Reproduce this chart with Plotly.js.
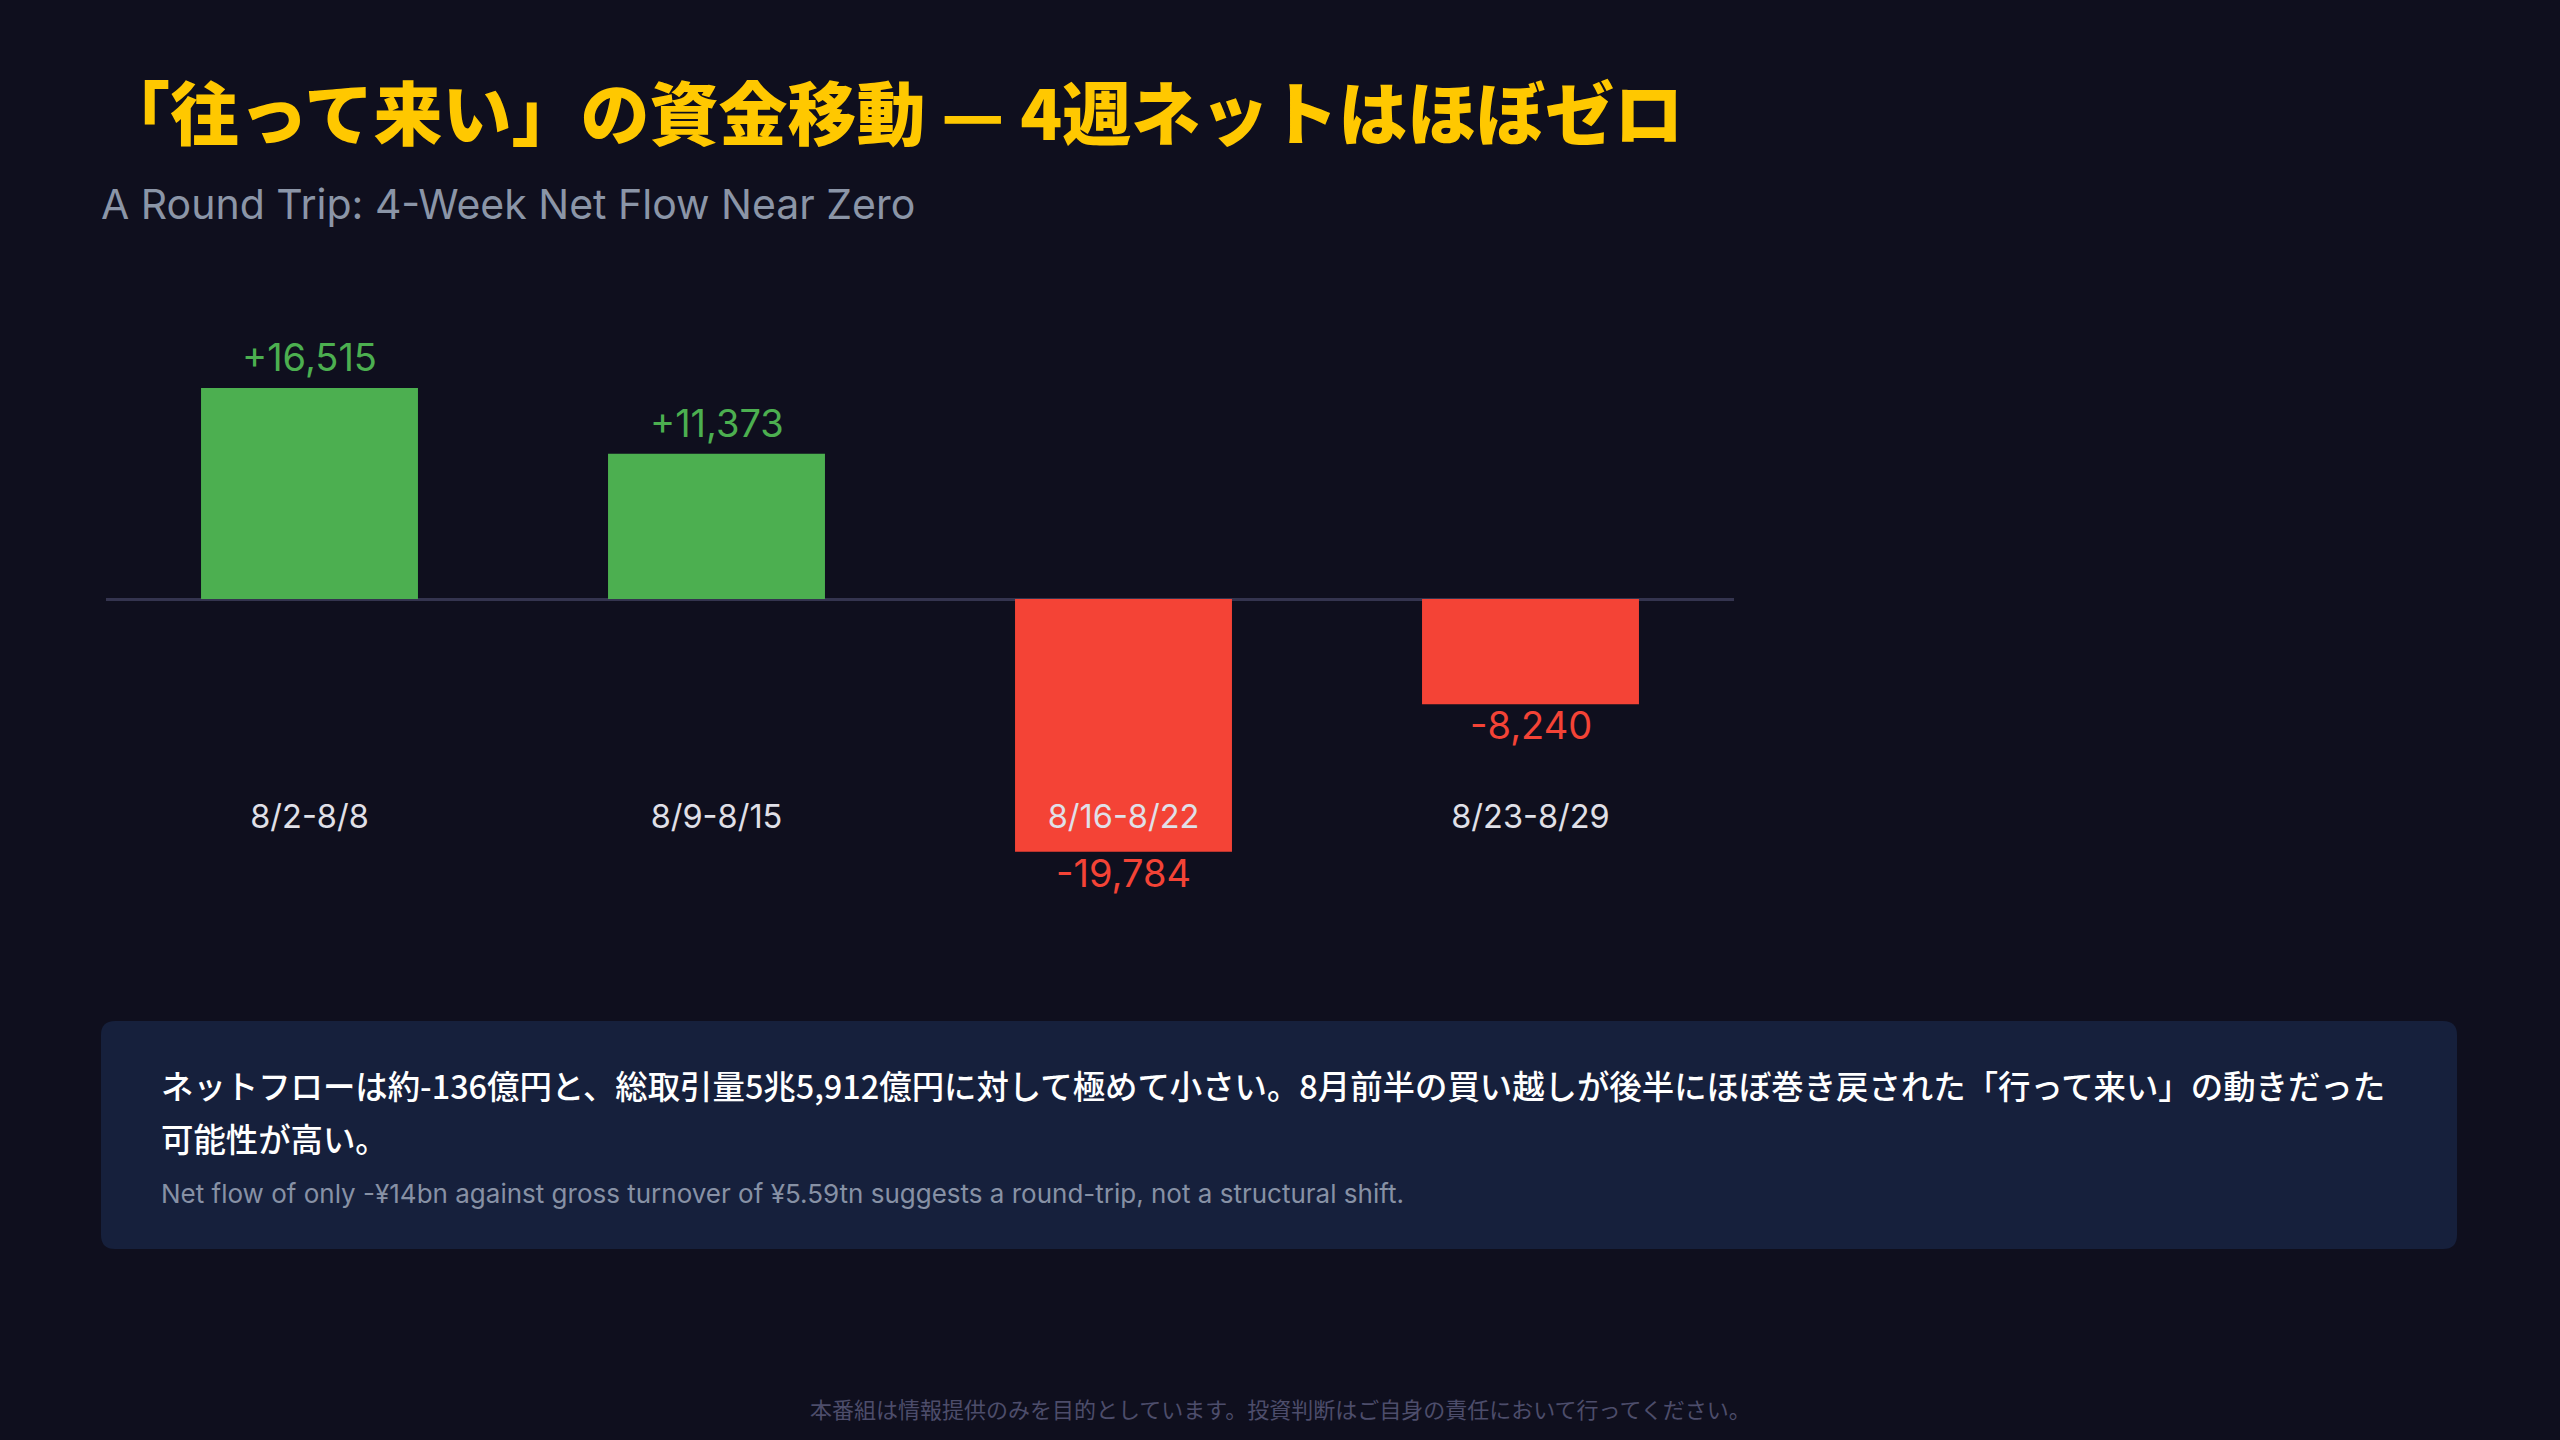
<!DOCTYPE html>
<html>
<head>
<meta charset="utf-8">
<script src="https://cdn.plot.ly/plotly-3.0.1.min.js"></script>
<style>
  html, body { margin: 0; padding: 0; background: #0f0f1e; }
  #chart { width: 2560px; height: 1440px; }
</style>
</head>
<body>
<div id="chart"></div>
<script>
// weekly net flow (億円)
var weeks = ['8/2-8/8', '8/9-8/15', '8/16-8/22', '8/23-8/29'];
var netFlow = [16515, 11373, -19784, -8240];

var titleText = '「往って来い」の資金移動 — 4週ネットはほぼゼロ';
var subText = 'A Round Trip: 4-Week Net Flow Near Zero';
var noteLine1 = 'ネットフローは約-136億円と、総取引量5兆5,912億円に対して極めて小さい。8月前半の買い越しが後半にほぼ巻き戻された「行って来い」の動きだった';
var noteLine2 = '可能性が高い。';
var noteEn = 'Net flow of only -¥14bn against gross turnover of ¥5.59tn suggests a round-trip, not a structural shift.';
var footer = '本番組は情報提供のみを目的としています。投資判断はご自身の責任において行ってください。';

var W = 2560, H = 1440;
function px(x) { return x / W; }
function py(y) { return 1 - y / H; }

var green = '#4CAF50', red = '#F44336';
var latin = "Inter, 'Noto Sans CJK JP', sans-serif";
var jp = "'Noto Sans CJK JP', Inter, sans-serif";

var colors = netFlow.map(function (v) { return v >= 0 ? green : red; });

function fmt(v) {
  return (v > 0 ? '+' : '') + v.toLocaleString('en-US');
}

var bars = {
  type: 'bar',
  x: weeks,
  y: netFlow,
  marker: { color: colors, line: { width: 0 } },
  hoverinfo: 'x+y',
  showlegend: false
};

var annotations = [];

// value labels on each bar
netFlow.forEach(function (v, i) {
  annotations.push({
    xref: 'x', yref: 'y', x: weeks[i], y: v,
    text: fmt(v), showarrow: false,
    xanchor: 'center', yanchor: 'middle',
    yshift: v >= 0 ? 31 : -21,
    font: { family: latin, size: 38, color: colors[i] }
  });
});

function note(text, x, y, size, color, family, weight, anchor) {
  annotations.push({
    xref: 'paper', yref: 'paper', x: x, y: y,
    text: text, showarrow: false,
    xanchor: anchor || 'left', yanchor: 'middle',
    font: { family: family, size: size, color: color, weight: weight || 400 }
  });
}

note(titleText, px(99), py(110), 69, '#FFC800', jp, 900);
note(subText, px(99), py(204), 41, '#8b95a7', latin);
note(noteLine1, px(159), py(1084), 32.4, '#ffffff', jp, 500);
note(noteLine2, px(159), py(1137), 32.4, '#ffffff', jp, 500);
note(noteEn, px(159), py(1193), 26, '#8791a5', latin);
note(footer, px(1280), py(1408), 22, '#4d4d6b', jp, 400, 'center');

// rounded box behind the note
var bx0 = 101, bx1 = 2457, by0 = 1021, by1 = 1249, r = 14;
function pt(x, y) { return px(x) + ',' + py(y); }
var boxPath = 'M' + pt(bx0 + r, by0) +
  ' L' + pt(bx1 - r, by0) + ' Q' + pt(bx1, by0) + ' ' + pt(bx1, by0 + r) +
  ' L' + pt(bx1, by1 - r) + ' Q' + pt(bx1, by1) + ' ' + pt(bx1 - r, by1) +
  ' L' + pt(bx0 + r, by1) + ' Q' + pt(bx0, by1) + ' ' + pt(bx0, by1 - r) +
  ' L' + pt(bx0, by0 + r) + ' Q' + pt(bx0, by0) + ' ' + pt(bx0 + r, by0) + ' Z';

var layout = {
  width: W, height: H,
  margin: { l: 0, r: 0, t: 0, b: 0 },
  paper_bgcolor: '#0f0f1e',
  plot_bgcolor: 'rgba(0,0,0,0)',
  bargap: 0.467,
  font: { family: latin, color: '#e0e0e8' },
  xaxis: {
    domain: [px(106), px(1734)],
    range: [-0.5, 3.5],
    type: 'category',
    anchor: 'free',
    position: py(794),
    showline: false, showgrid: false, zeroline: false,
    ticks: '',
    tickfont: { family: latin, size: 32.5, color: '#e0e0e8' },
    fixedrange: true
  },
  yaxis: {
    domain: [py(905.5), py(292.5)],
    range: [-24000, 24000],
    showgrid: false, showticklabels: false, ticks: '',
    zeroline: true, zerolinecolor: '#34344f', zerolinewidth: 3,
    fixedrange: true
  },
  shapes: [{
    type: 'path', xref: 'paper', yref: 'paper', layer: 'below',
    path: boxPath,
    fillcolor: '#16203c', line: { width: 0 }
  }],
  annotations: annotations
};

Plotly.newPlot('chart', [bars], layout, { displayModeBar: false, staticPlot: true });
</script>
</body>
</html>
